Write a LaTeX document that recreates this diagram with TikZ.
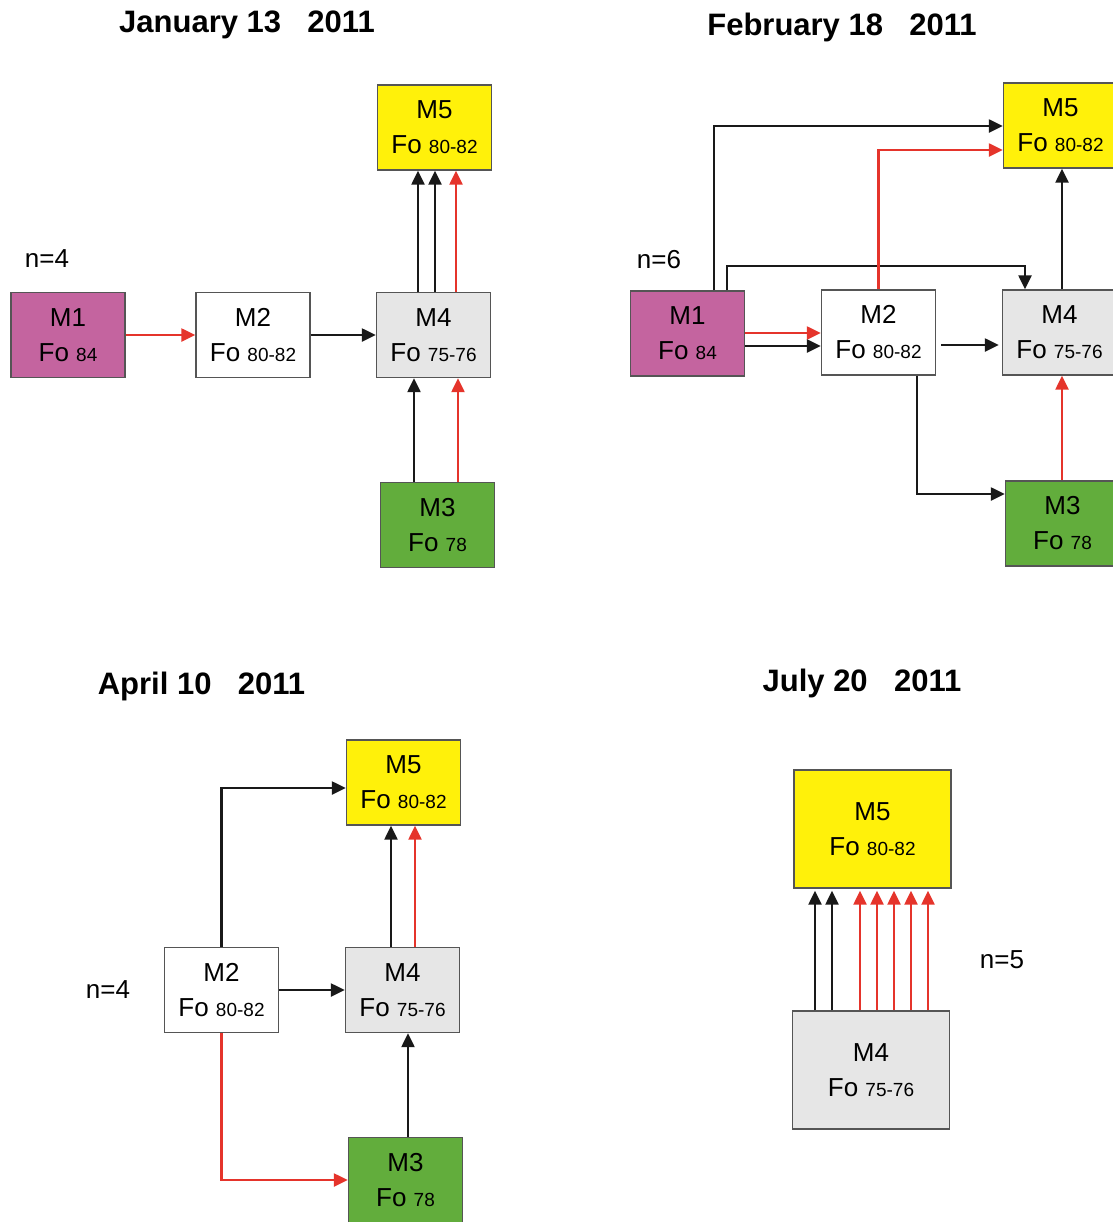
\documentclass[tikz,border=0pt]{standalone}
\usepackage{fontspec}
\setmainfont{Liberation Sans}
\usetikzlibrary{arrows.meta}

\definecolor{mauve}{HTML}{C4649F}
\definecolor{lemon}{HTML}{FFF10A}
\definecolor{leaf}{HTML}{62AD3C}
\definecolor{pale}{HTML}{E6E6E6}
\definecolor{boxline}{HTML}{555555}
\definecolor{flowred}{HTML}{E5342B}

\newcommand{\fo}[1]{Fo {\fontsize{9.5}{17}\selectfont #1}}

\tikzset{
  box/.style={draw=boxline, line width=0.7pt, minimum width=57pt, minimum height=42.5pt,
    inner sep=0pt, align=center, font=\fontsize{13}{17.5}\selectfont},
  bigbox/.style={box, minimum width=78.5pt, minimum height=59pt},
  kflow/.style={draw=black!90, line width=1.2pt, -{Triangle[length=7pt,width=6.5pt]}},
  rflow/.style={draw=flowred, line width=1.2pt, -{Triangle[length=7pt,width=6.5pt]}},
  title/.style={font=\bfseries\fontsize{15.5}{18}\selectfont},
  count/.style={font=\fontsize{13}{15}\selectfont}
}

\begin{document}
\begin{tikzpicture}[x=0.5pt, y=-0.5pt]
  \useasboundingbox (0,0) rectangle (1113,1222);

  % January 13
  \node[title] (t1) at (247,25) {January 13\hspace{0.85em}2011};
  \node[count] (n1) at (47,259) {n=4};
  \begin{scope}[every node/.style={box}]
    \node[fill=mauve] (a1) at (68,335)  {M1\\\fo{84}};
    \node[fill=white] (a2) at (253,335) {M2\\\fo{80-82}};
    \node[fill=leaf]  (a3) at (437.5,525) {M3\\\fo{78}};
    \node[fill=pale]  (a4) at (433.5,335) {M4\\\fo{75-76}};
    \node[fill=lemon] (a5) at (434.5,127.5) {M5\\\fo{80-82}};
  \end{scope}
  \draw[rflow] (a1) -- (a2);
  \draw[kflow] (a2) -- (a4);
  \draw[kflow] (a4.north -| 418,0) -- (a5.south -| 418,0);
  \draw[kflow] (a4.north -| 435,0) -- (a5.south -| 435,0);
  \draw[rflow] (a4.north -| 456,0) -- (a5.south -| 456,0);
  \draw[kflow] (a3.north -| 414,0) -- (a4.south -| 414,0);
  \draw[rflow] (a3.north -| 458,0) -- (a4.south -| 458,0);

  % February 18
  \node[title] (t2) at (842,27) {February 18\hspace{0.85em}2011};
  \node[count] (n2) at (659,260) {n=6};
  \begin{scope}[every node/.style={box}]
    \node[fill=mauve] (b1) at (687.5,333.5) {M1\\\fo{84}};
    \node[fill=white] (b2) at (878.5,332.5) {M2\\\fo{80-82}};
    \node[fill=leaf]  (b3) at (1062.5,523.5) {M3\\\fo{78}};
    \node[fill=pale]  (b4) at (1059.5,332.5) {M4\\\fo{75-76}};
    \node[fill=lemon] (b5) at (1060.5,125.5) {M5\\\fo{80-82}};
  \end{scope}
  \draw[kflow] (b1.north -| 714,0) |- (b5.west |- 0,126);
  \draw[kflow] (b1.north -| 727,0) -- (727,266) -| (b4.north -| 1025,0);
  \draw[rflow] (b2.north) |- (b5.west |- 0,150);
  \draw[rflow] (b1.east |- 0,333) -- (b2.west |- 0,333);
  \draw[kflow] (b1.east |- 0,346) -- (b2.west |- 0,346);
  \draw[kflow, shorten <=2.5pt, shorten >=1.5pt] (b2.east |- 0,345) -- (b4.west |- 0,345);
  \draw[kflow] (b2.south -| 917,0) |- (b3.west |- 0,494);
  \draw[kflow] (b4.north -| 1062,0) -- (b5.south -| 1062,0);
  \draw[rflow] (b3.north -| 1062,0) -- (b4.south -| 1062,0);

  % April 10
  \node[title] (t3) at (201.5,686) {April 10\hspace{0.85em}2011};
  \node[count] (n3) at (108,990) {n=4};
  \begin{scope}[every node/.style={box}]
    \node[fill=white] (c2) at (221.5,990) {M2\\\fo{80-82}};
    \node[fill=leaf]  (c3) at (405.5,1180) {M3\\\fo{78}};
    \node[fill=pale]  (c4) at (402.5,990) {M4\\\fo{75-76}};
    \node[fill=lemon] (c5) at (403.5,782.5) {M5\\\fo{80-82}};
  \end{scope}
  \draw[kflow] (c2.north) |- (c5.west |- 0,788);
  \draw[kflow] (c2) -- (c4);
  \draw[kflow] (c4.north -| 391,0) -- (c5.south -| 391,0);
  \draw[rflow] (c4.north -| 415,0) -- (c5.south -| 415,0);
  \draw[kflow] (c3.north -| 408,0) -- (c4.south -| 408,0);
  \draw[rflow] (c2.south) |- (c3.west);

  % July 20
  \node[title] (t4) at (862,683) {July 20\hspace{0.85em}2011};
  \node[count] (n4) at (1002,960) {n=5};
  \begin{scope}[every node/.style={bigbox}]
    \node[fill=pale]  (d4) at (871,1070) {M4\\\fo{75-76}};
    \node[fill=lemon] (d5) at (872.5,829) {M5\\\fo{80-82}};
  \end{scope}
  \foreach \x in {815,832}
    \draw[kflow, shorten >=1pt] (d4.north -| \x,0) -- (d5.south -| \x,0);
  \foreach \x in {860,877,894,911,928}
    \draw[rflow, shorten >=1pt] (d4.north -| \x,0) -- (d5.south -| \x,0);

\end{tikzpicture}
\end{document}
